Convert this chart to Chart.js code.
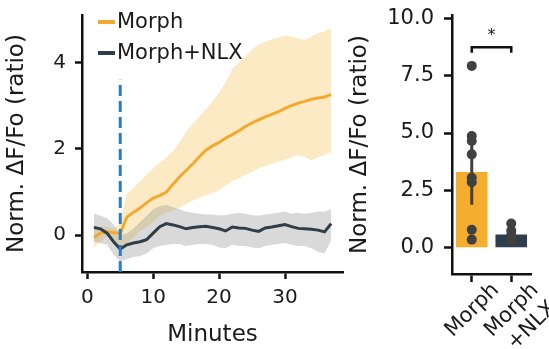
<!DOCTYPE html>
<html><head><meta charset="utf-8">
<script src="https://cdn.jsdelivr.net/npm/chart.js@4/dist/chart.umd.min.js"></script>
<style>
html,body{margin:0;padding:0;background:#fff;}
body{width:549px;height:349px;position:relative;overflow:hidden;font-family:'DejaVu Sans';}
#c1{position:absolute;left:0;top:0;}
#c2{position:absolute;left:340px;top:0;}
.leg{position:absolute;left:98px;height:25px;font:21px 'DejaVu Sans';line-height:25px;color:#1a1a1a;display:flex;align-items:center;white-space:nowrap;}
.leg i{display:inline-block;width:17px;height:4px;margin-right:2px;}
</style></head><body>
<canvas id="c1" width="345" height="349"></canvas>
<canvas id="c2" width="209" height="349"></canvas>
<div id="legend"></div>
<script>
// ---------- data: time course (left panel) ----------
const minutes = [1,2,3,4,5,6,7,8,9,10,11,12,13,14,15,16,17,18,19,20,21,22,23,24,25,26,27,28,29,30,31,32,33,34,35,36,37];
const morphMean  = [-0.05,0.05,0.08,0.06,0.05,0.42,0.53,0.63,0.75,0.86,0.92,1.0,1.18,1.35,1.5,1.65,1.82,1.97,2.07,2.15,2.25,2.33,2.42,2.52,2.6,2.67,2.74,2.8,2.86,2.94,3.0,3.06,3.1,3.15,3.18,3.2,3.26];
const morphUpper = [0.12,0.2,0.2,0.15,0.3,0.95,1.1,1.25,1.4,1.55,1.68,1.8,1.95,2.15,2.4,2.58,2.75,2.92,3.1,3.3,3.55,3.85,4.0,4.15,4.3,4.42,4.48,4.53,4.58,4.62,4.6,4.55,4.52,4.6,4.68,4.72,4.8];
const morphLower = [-0.28,-0.15,-0.02,-0.08,-0.3,-0.2,-0.05,0.1,0.2,0.3,0.45,0.52,0.58,0.64,0.72,0.8,0.87,0.93,0.98,1.05,1.15,1.25,1.32,1.4,1.47,1.55,1.6,1.65,1.7,1.75,1.8,1.86,1.82,1.74,1.8,1.86,1.93];
const nlxMean  = [0.18,0.15,0.05,-0.15,-0.32,-0.22,-0.18,-0.15,-0.1,0.05,0.2,0.27,0.24,0.2,0.15,0.18,0.2,0.21,0.18,0.15,0.1,0.19,0.17,0.16,0.12,0.09,0.17,0.19,0.22,0.25,0.2,0.16,0.15,0.14,0.12,0.08,0.27];
const nlxUpper = [0.5,0.45,0.4,0.25,0.0,0.05,0.15,0.3,0.45,0.6,0.68,0.7,0.65,0.6,0.55,0.52,0.5,0.48,0.48,0.46,0.47,0.5,0.52,0.5,0.47,0.45,0.48,0.5,0.52,0.55,0.5,0.52,0.5,0.52,0.55,0.55,0.6];
const nlxLower = [-0.15,-0.18,-0.22,-0.45,-0.6,-0.55,-0.5,-0.48,-0.42,-0.3,-0.25,-0.22,-0.2,-0.2,-0.25,-0.22,-0.2,-0.2,-0.22,-0.28,-0.3,-0.22,-0.25,-0.25,-0.28,-0.3,-0.25,-0.22,-0.2,-0.18,-0.22,-0.25,-0.25,-0.3,-0.38,-0.42,-0.12];
const drugOnsetMinute = 5;
const onsetLineRange = [-0.85, 3.6];
const leftYTicks = [0, 2, 4];
const leftXTicks = [0, 10, 20, 30];

// ---------- data: summary (right panel) ----------
const groupLabels = ['Morph', 'Morph+NLX'];
const groupTickText = [['Morph'], ['Morph', '+NLX']];
const barMeans = [3.3, 0.57];
const morphPoints = [7.93, 4.87, 4.65, 4.07, 3.05, 2.85, 0.78, 0.35];
const nlxPoints = [1.05, 0.75, 0.55, 0.4, 0.3];
const ciLow = [1.87, 0.35];
const ciHigh = [4.84, 0.85];
const rightYTicks = [0, 2.5, 5, 7.5, 10];
const sigBracket = [8.5, 8.74];
const sigStarValue = 9.25;

// ---------- styles ----------
const ORANGE = '#F2A92E', ORANGE_BAR = '#F4AD2C', ORANGE_BAND = 'rgba(246,186,60,0.3)';
const DARK = '#2F3D48', DARK_BAR = '#2E3E4D', GRAY_BAND = 'rgba(130,130,130,0.3)';
const BLUE = '#2E7BBE', INK = '#111', PT = '#404040';
Chart.defaults.font.family = "'DejaVu Sans'";
Chart.defaults.color = '#1a1a1a';

const xy = (xs, ys) => xs.map((x, i) => ({x, y: ys[i]}));
function axis(tickLen, size, pad) {
  return {
    border: {display: true, color: INK, width: 2.5},
    grid: {display: true, drawOnChartArea: false, drawTicks: true, tickLength: tickLen, tickWidth: 2.5, tickColor: INK, offset: false},
    ticks: {color: '#1a1a1a', font: {size}, padding: pad}
  };
}
const setTicks = arr => s => { s.ticks = arr.map(v => ({value: v})); };
const fitY = w => s => { s.width = w; s.paddingTop = 0; s.paddingBottom = 0; };
const fitX = h => s => { s.height = h; s.paddingLeft = 0; s.paddingRight = 0; };

// ---------- left chart ----------
const lx = axis(7, 20, 7), ly = axis(7, 20, 9);
new Chart(document.getElementById('c1'), {
  type: 'line',
  data: {datasets: [
    {label: 'Morph upper', data: xy(minutes, morphUpper), borderWidth: 0, pointRadius: 0, fill: '+1', backgroundColor: ORANGE_BAND, order: 6},
    {label: 'Morph lower', data: xy(minutes, morphLower), borderWidth: 0, pointRadius: 0, fill: false, order: 6},
    {label: 'NLX upper', data: xy(minutes, nlxUpper), borderWidth: 0, pointRadius: 0, fill: '+1', backgroundColor: GRAY_BAND, order: 5},
    {label: 'NLX lower', data: xy(minutes, nlxLower), borderWidth: 0, pointRadius: 0, fill: false, order: 5},
    {label: 'Morph', data: xy(minutes, morphMean), borderColor: ORANGE, borderWidth: 3, pointRadius: 0, fill: false, order: 2},
    {label: 'Morph+NLX', data: xy(minutes, nlxMean), borderColor: DARK, borderWidth: 3, pointRadius: 0, fill: false, order: 1},
    {label: 'onset', data: onsetLineRange.map(v => ({x: drugOnsetMinute, y: v})), borderColor: BLUE, borderWidth: 3, borderDash: [11, 5], pointRadius: 0, fill: false, order: 0}
  ]},
  options: {
    responsive: false, animation: false, devicePixelRatio: 1,
    layout: {padding: {top: 15, right: 2, left: 0, bottom: 0}},
    plugins: {legend: {display: false}, tooltip: {enabled: false}},
    scales: {
      x: Object.assign(lx, {type: 'linear', min: -0.8, max: 38.8,
        afterBuildTicks: setTicks(leftXTicks), afterFit: fitX(77),
        title: {display: true, text: 'Minutes', font: {size: 23}, color: '#1a1a1a', padding: {top: 0, bottom: 0}}}),
      y: Object.assign(ly, {type: 'linear', min: -0.85, max: 5.1,
        afterBuildTicks: setTicks(leftYTicks), afterFit: fitY(82),
        title: {display: true, text: 'Norm. ΔF/Fo (ratio)', font: {size: 23}, color: '#1a1a1a', padding: {top: 3, bottom: 0}}})
    }
  }
});

// HTML legend for the two line series
const legendItems = [{label: 'Morph', color: ORANGE, top: 9}, {label: 'Morph+NLX', color: DARK, top: 40}];
const legendEl = document.getElementById('legend');
legendItems.forEach(it => {
  const d = document.createElement('div');
  d.className = 'leg'; d.style.top = it.top + 'px';
  const sw = document.createElement('i'); sw.style.background = it.color;
  d.appendChild(sw); d.appendChild(document.createTextNode(it.label));
  legendEl.appendChild(d);
});

// ---------- right chart ----------
const starPlugin = {
  id: 'sigStar',
  afterDatasetsDraw(chart) {
    const {ctx, scales: {x, y}} = chart;
    const px = (x.getPixelForValue(0) + x.getPixelForValue(1)) / 2;
    const py = y.getPixelForValue(sigStarValue);
    ctx.save();
    ctx.font = "16px 'DejaVu Sans'"; ctx.fillStyle = '#1a1a1a';
    ctx.textAlign = 'center'; ctx.textBaseline = 'middle';
    ctx.fillText('*', px, py);
    ctx.restore();
  }
};
const rx = axis(8, 21, -4), ry = axis(8, 21, 10);
rx.ticks = Object.assign(rx.ticks, {autoSkip: false, minRotation: 45, maxRotation: 45, labelOffset: 24,
  callback: (v, i) => groupTickText[i]});
ry.ticks = Object.assign(ry.ticks, {callback: v => Number(v).toFixed(1)});
new Chart(document.getElementById('c2'), {
  type: 'bar',
  data: {
    labels: groupLabels,
    datasets: [
      {type: 'line', label: 'Morph pts', data: morphPoints.map(v => ({x: groupLabels[0], y: v})), showLine: false, pointRadius: 5, pointBackgroundColor: PT, pointBorderWidth: 0, order: 0},
      {type: 'line', label: 'NLX pts', data: nlxPoints.map(v => ({x: groupLabels[1], y: v})), showLine: false, pointRadius: 5, pointBackgroundColor: PT, pointBorderWidth: 0, order: 0},
      {type: 'line', label: 'CI Morph', data: [{x: groupLabels[0], y: ciLow[0]}, {x: groupLabels[0], y: ciHigh[0]}], borderColor: PT, borderWidth: 3, pointRadius: 0, order: 1},
      {type: 'line', label: 'CI NLX', data: [{x: groupLabels[1], y: ciLow[1]}, {x: groupLabels[1], y: ciHigh[1]}], borderColor: PT, borderWidth: 3, pointRadius: 0, order: 1},
      {type: 'line', label: 'bracket', data: [{x: groupLabels[0], y: sigBracket[0]}, {x: groupLabels[0], y: sigBracket[1]}, {x: groupLabels[1], y: sigBracket[1]}, {x: groupLabels[1], y: sigBracket[0]}], borderColor: INK, borderWidth: 2.5, pointRadius: 0, order: 1},
      {type: 'bar', label: 'mean', data: barMeans, backgroundColor: [ORANGE_BAR, DARK_BAR], barPercentage: 0.8, categoryPercentage: 1, order: 3}
    ]
  },
  options: {
    responsive: false, animation: false, devicePixelRatio: 1,
    layout: {padding: {top: 15, right: 18, left: 0, bottom: 0}},
    plugins: {legend: {display: false}, tooltip: {enabled: false}},
    scales: {
      x: Object.assign(rx, {type: 'category', offset: true, afterFit: fitX(75)}),
      y: Object.assign(ry, {type: 'linear', min: -1.15, max: 10.15,
        afterBuildTicks: setTicks(rightYTicks), afterFit: fitY(112),
        title: {display: true, text: 'Norm. ΔF/Fo (ratio)', font: {size: 23}, color: '#1a1a1a', padding: {top: 6, bottom: 0}}})
    }
  },
  plugins: [starPlugin]
});
</script>
</body></html>
